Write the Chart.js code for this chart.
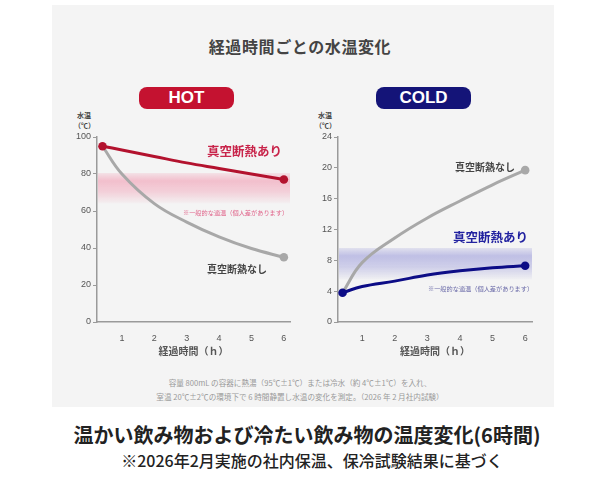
<!DOCTYPE html>
<html>
<head>
<meta charset="utf-8">
<script src="https://cdn.jsdelivr.net/npm/chart.js@4.4.1/dist/chart.umd.min.js"></script>
<style>
  html, body { margin: 0; padding: 0; background: #fff; }
  body { width: 600px; height: 485px; position: relative; overflow: hidden;
         font-family: "Noto Sans CJK JP", "Noto Sans", sans-serif; }
  .panel { position: absolute; left: 52px; top: 5px; width: 502px; height: 402px; background: #f4f4f4; }
  .abs { position: absolute; white-space: nowrap; line-height: 1; }
  .title { left: 0; width: 600px; top: 38px; text-align: center; font-size: 16px; font-weight: bold;
           color: #444; letter-spacing: 0.6px; }
  .badge { height: 22px; width: 95px; border-radius: 8px; color: #fff; text-align: center;
           font: bold 17px "Liberation Sans", Arial, sans-serif; line-height: 22px; }
  .ytitle { font-size: 7px; font-weight: bold; color: #444; text-align: center; width: 20px; line-height: 10px; }
  .lab { font-weight: bold; transform: translateY(-50%); }
  .note { font-size: 6.2px; transform: translateY(-50%); }
  .foot { left: 0; width: 600px; text-align: center; font-size: 7.6px; color: #999; }
  canvas { position: absolute; }
  .cap1 { left: 7px; width: 600px; top: 425px; text-align: center; font-size: 20px; font-weight: bold; color: #222; }
  .cap2 { left: 12px; width: 600px; top: 452px; text-align: center; font-size: 16px; font-weight: 500; color: #222; }
</style>
</head>
<body>
<div class="panel"></div>
<div class="abs title">経過時間ごとの水温変化</div>

<div class="abs badge" style="left:139px; top:87px; background:#c41230;">HOT</div>
<div class="abs badge" style="left:376px; top:87px; background:#141478;">COLD</div>

<div class="abs ytitle" style="left:74px; top:110px;">水温<br>（℃）</div>
<div class="abs ytitle" style="left:315px; top:110px;">水温<br>（℃）</div>

<canvas id="hot" width="245" height="250" style="left:55px; top:110px;"></canvas>
<canvas id="cold" width="245" height="250" style="left:296px; top:110px;"></canvas>

<div class="abs lab" style="left:207px; top:151px; font-size:12.5px; color:#c8244a;">真空断熱あり</div>
<div class="abs note" style="left:183px; top:213px; color:#e0648a;">※一般的な適温（個人差があります）</div>
<div class="abs lab" style="left:207px; top:269px; font-size:10px; color:#444;">真空断熱なし</div>

<div class="abs lab" style="left:455px; top:167px; font-size:10px; color:#444;">真空断熱なし</div>
<div class="abs lab" style="left:453px; top:237px; font-size:12.5px; color:#2222a0;">真空断熱あり</div>
<div class="abs note" style="left:428px; top:289px; color:#6a6aa8;">※一般的な適温（個人差があります）</div>

<div class="abs foot" style="top:379px;">容量 800mL の容器に熱湯（95℃±1℃）または冷水（約 4℃±1℃）を入れ、</div>
<div class="abs foot" style="top:393px;">室温 20℃±2℃の環境下で 6 時間静置し水温の変化を測定。（2026 年 2 月社内試験）</div>

<div class="abs cap1">温かい飲み物および冷たい飲み物の温度変化(6時間)</div>
<div class="abs cap2">※2026年2月実施の社内保温、保冷試験結果に基づく</div>

<script>
// elapsed hours (first reading sits just right of the axis)
const hours = [0.4, 1, 2, 3, 4, 5, 6];
const xTickValues = [1, 2, 3, 4, 5, 6];

// HOT (°C)
const hotVacuum = [95, 93, 89.5, 86, 83, 80, 77];
const hotPlain = [95, 80, 64, 54, 46, 39.7, 35];
const hotBand = [64, 80.5];
const hotYTicks = [0, 20, 40, 60, 80, 100];

// COLD (°C)
const coldVacuum = [3.8, 4.6, 5.3, 6.1, 6.65, 7.05, 7.3];
const coldPlain = [3.8, 7.7, 10.9, 13.5, 15.7, 17.8, 19.7];
const coldBand = [5.5, 9.6];
const coldYTicks = [0, 4, 8, 12, 16, 20, 24];

// end-only markers
const endMarker = hours.map((h, i) => (i === 0 || i === hours.length - 1) ? 4.3 : 0);
const lastMarker = hours.map((h, i) => (i === hours.length - 1) ? 4.3 : 0);

function toXY(values) {
    return values.map((v, i) => ({ x: hours[i], y: v }));
}

// soft comfort band behind the lines
const bandPlugin = {
    id: 'band',
    beforeDatasetsDraw(chart, args, opts) {
        const { ctx, chartArea, scales } = chart;
        const top = scales.y.getPixelForValue(opts.range[1]);
        const bottom = scales.y.getPixelForValue(opts.range[0]);
        const g = ctx.createLinearGradient(0, top, 0, bottom);
        const c = opts.rgb;
        g.addColorStop(0, `rgba(${c},0.12)`);
        g.addColorStop(0.25, `rgba(${c},0.34)`);
        g.addColorStop(0.6, `rgba(${c},0.24)`);
        g.addColorStop(1, `rgba(${c},0.02)`);
        ctx.save();
        ctx.fillStyle = g;
        ctx.fillRect(chartArea.left + 1, top, chartArea.right - chartArea.left - 1, bottom - top);
        ctx.restore();
    }
};

function makeChart(id, cfg) {
    return new Chart(document.getElementById(id).getContext('2d'), {
        type: 'line',
        data: {
            datasets: [
                {
                    data: toXY(cfg.vacuum),
                    borderColor: cfg.color,
                    backgroundColor: cfg.color,
                    borderWidth: 3,
                    pointRadius: endMarker,
                    pointBorderWidth: 0,
                    tension: 0.4
                },
                {
                    data: toXY(cfg.plain),
                    borderColor: '#a8a8a8',
                    backgroundColor: '#a8a8a8',
                    borderWidth: 3,
                    pointRadius: lastMarker,
                    pointBorderWidth: 0,
                    tension: 0.4
                }
            ]
        },
        plugins: [bandPlugin],
        options: {
            responsive: false,
            animation: false,
            events: [],
            layout: { padding: { top: 27, right: cfg.padRight, bottom: 0, left: 0 } },
            plugins: {
                legend: { display: false },
                tooltip: { enabled: false },
                band: { range: cfg.band, rgb: cfg.bandRgb }
            },
            scales: {
                x: {
                    type: 'linear',
                    min: cfg.xMin,
                    max: cfg.xMax,
                    afterBuildTicks: s => { s.ticks = xTickValues.map(v => ({ value: v })); },
                    afterFit: s => { s.height = 38; },
                    grid: { display: false },
                    border: { display: true, color: '#9a9a9a', width: 1.5 },
                    ticks: { color: '#555', font: { size: 9 }, padding: 3, maxRotation: 0 },
                    title: {
                        display: true,
                        text: '経過時間（ｈ）',
                        color: '#555',
                        font: { size: 10, weight: 'bold', family: '"Noto Sans CJK JP"' },
                        padding: { top: 0, bottom: 3 }
                    }
                },
                y: {
                    min: cfg.yTicks[0],
                    max: cfg.yTicks[cfg.yTicks.length - 1],
                    afterBuildTicks: s => { s.ticks = cfg.yTicks.map(v => ({ value: v })); },
                    afterFit: s => { s.width = 42; },
                    grid: { display: true, drawOnChartArea: false, tickLength: 4, color: '#9a9a9a', lineWidth: 1 },
                    border: { display: true, color: '#9a9a9a', width: 1.5 },
                    ticks: { color: '#555', font: { size: 9 }, padding: 2 }
                }
            }
        }
    });
}

makeChart('hot', {
    vacuum: hotVacuum, plain: hotPlain, band: hotBand, yTicks: hotYTicks,
    color: '#b3122e', bandRgb: '240,90,130', xMin: 0.23, xMax: 6.19, padRight: 10
});
makeChart('cold', {
    vacuum: coldVacuum, plain: coldPlain, band: coldBand, yTicks: coldYTicks,
    color: '#0c0c86', bandRgb: '90,90,200', xMin: 0.26, xMax: 6.21, padRight: 9
});
</script>
</body>
</html>
